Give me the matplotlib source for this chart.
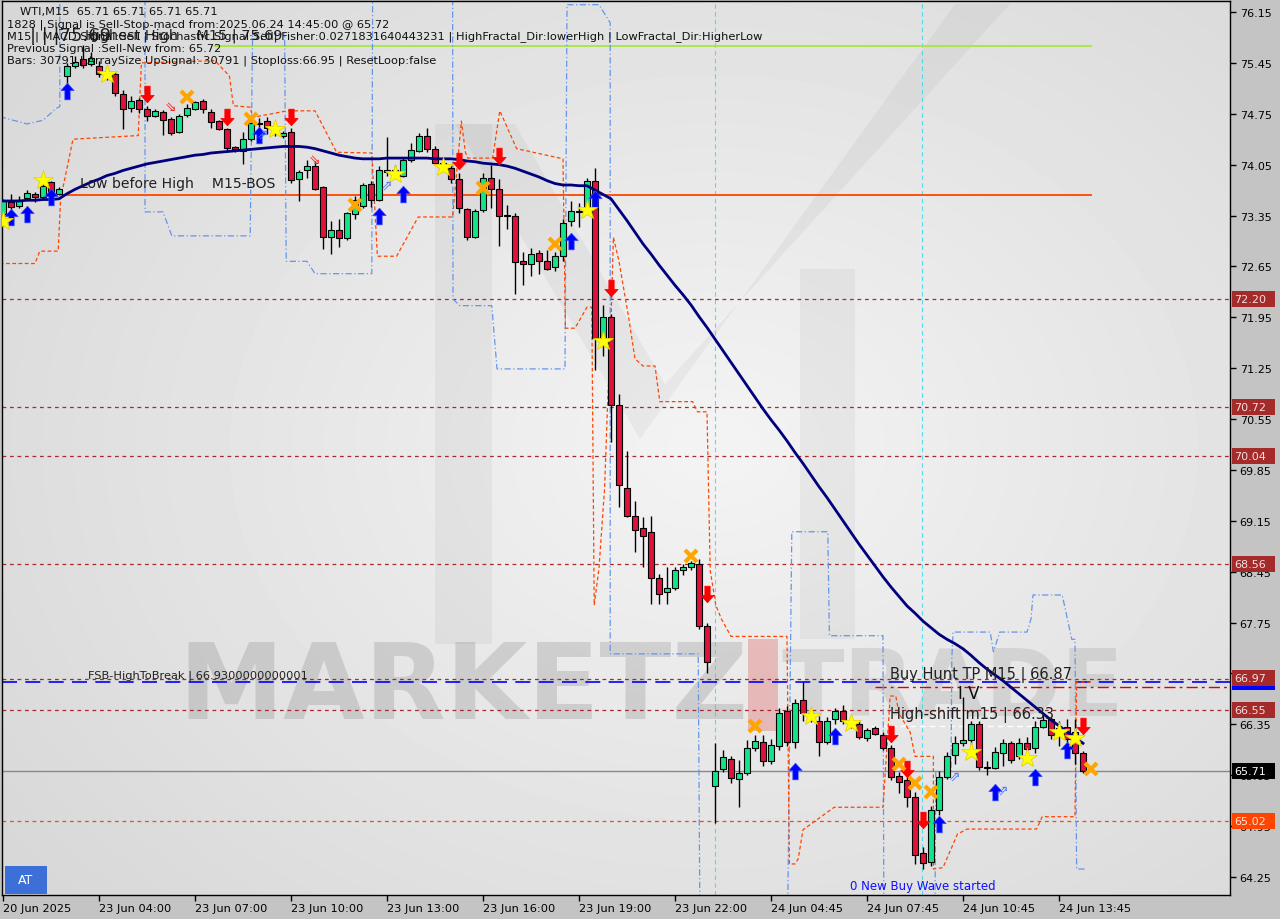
import numpy as np
import matplotlib
matplotlib.use("Agg")
import matplotlib.pyplot as plt
from matplotlib.patches import Rectangle, Polygon
from matplotlib.path import Path

# ---------------- data ----------------
opens = [73.37,73.53,73.48,73.59,73.64,73.60,73.81,73.65,75.27,75.41,75.50,75.44,75.41,75.30,75.30,75.02,74.83,74.94,74.82,74.72,
         74.77,74.68,74.50,74.73,74.82,74.92,74.78,74.65,74.54,74.29,74.24,74.40,74.61,74.65,74.52,74.44,74.50,73.85,73.97,74.03,
         73.74,73.06,73.15,73.04,73.37,73.48,73.78,73.57,73.97,73.95,73.90,74.11,74.24,74.45,74.27,74.07,74.00,73.85,73.44,73.06,
         73.42,73.87,73.71,73.35,73.34,72.72,72.68,72.83,72.73,72.64,72.79,73.27,73.40,73.47,73.83,71.66,71.96,70.75,69.60,69.21,
         69.05,68.99,68.36,68.17,68.22,68.48,68.51,68.56,67.71,65.50,65.73,65.88,65.60,65.68,66.03,66.11,65.85,66.05,66.54,66.11,
         66.69,66.50,66.40,66.11,66.42,66.54,66.40,66.36,66.16,66.30,66.20,66.03,65.64,65.58,65.35,64.58,64.46,65.17,65.63,65.93,
         66.10,66.14,66.36,65.75,65.75,65.96,66.09,65.91,66.09,66.02,66.32,66.42,66.30,66.32,66.24,65.96]
highs = [73.58,73.65,73.62,73.70,73.68,73.80,73.83,73.74,75.45,75.55,75.69,75.60,75.48,75.38,75.33,75.07,75.00,74.96,74.85,74.82,
         74.80,74.71,74.75,74.88,74.93,74.95,74.81,74.67,74.56,74.31,74.50,74.64,74.69,74.70,74.56,74.51,74.56,73.98,74.12,74.10,
         73.76,73.28,73.30,73.40,73.62,73.80,73.83,74.03,74.43,74.05,74.15,74.35,74.48,74.56,74.30,74.10,74.05,73.93,73.46,73.44,
         73.93,74.05,73.85,73.50,73.38,72.85,72.90,72.88,72.87,72.85,73.30,73.55,73.52,73.87,74.01,72.12,71.99,70.90,70.11,69.42,
         69.20,69.22,68.42,68.52,68.52,68.55,68.60,68.62,67.74,66.10,66.00,65.92,65.86,66.14,66.20,66.21,66.15,66.58,66.60,66.70,
         66.93,66.55,66.47,66.45,66.58,66.62,66.45,66.40,66.30,66.33,66.25,66.06,65.69,65.62,65.42,64.66,65.23,65.71,65.97,66.19,
         66.72,66.40,66.40,65.84,66.04,66.15,66.12,66.16,66.18,66.40,66.50,66.45,66.40,66.42,66.42,65.99]
lows = [73.32,73.44,73.46,73.57,73.54,73.58,73.60,73.63,75.15,75.38,75.38,75.40,75.25,75.22,75.00,74.54,74.78,74.76,74.65,74.70,
        74.46,74.46,74.48,74.70,74.80,74.76,74.56,74.52,74.22,74.22,74.06,74.38,74.52,74.47,74.44,74.42,73.80,73.55,73.86,73.70,
        72.89,72.82,72.92,73.02,73.30,73.45,73.47,73.55,73.90,73.88,73.88,74.09,74.22,74.22,74.05,73.98,73.80,73.38,73.01,73.04,
        73.40,73.46,72.93,73.17,72.27,72.39,72.52,72.55,72.60,72.58,72.72,73.20,73.19,73.45,71.23,71.42,70.24,69.34,69.20,68.72,
        68.52,68.00,68.00,68.00,68.20,68.40,68.48,67.66,67.06,64.99,65.70,65.55,65.21,65.65,65.98,65.78,65.80,66.00,66.05,66.03,
        66.40,66.38,65.92,66.08,66.35,66.35,66.30,66.15,66.12,66.20,66.00,65.58,65.40,65.22,64.43,64.36,64.40,65.10,65.60,65.80,
        66.05,66.05,65.72,65.65,65.73,65.78,65.82,65.88,65.98,65.95,66.30,66.15,66.05,66.10,65.80,65.68]
closes = [73.55,73.47,73.57,73.66,73.61,73.76,73.62,73.71,75.40,75.46,75.42,75.52,75.30,75.32,75.04,74.82,74.93,74.82,74.72,74.79,
          74.67,74.49,74.72,74.83,74.91,74.82,74.64,74.54,74.28,74.26,74.40,74.62,74.61,74.56,74.50,74.49,73.84,73.95,74.03,73.71,
          73.06,73.15,73.04,73.38,73.57,73.77,73.57,73.98,73.95,73.98,74.11,74.25,74.45,74.27,74.07,74.03,73.85,73.45,73.06,73.41,
          73.86,73.71,73.34,73.35,72.71,72.68,72.82,72.72,72.62,72.79,73.25,73.41,73.41,73.83,71.66,71.96,70.74,69.64,69.22,69.03,
          68.94,68.36,68.15,68.22,68.48,68.51,68.57,67.70,67.21,65.71,65.90,65.61,65.68,66.03,66.12,65.85,66.06,66.51,66.11,66.65,
          66.51,66.45,66.11,66.40,66.54,66.40,66.38,66.17,66.27,66.22,66.03,65.63,65.56,65.35,64.55,64.45,65.17,65.62,65.92,66.09,
          66.13,66.35,65.76,65.75,65.97,66.09,65.86,66.10,66.01,66.31,66.41,66.20,66.25,66.15,65.96,65.71]
ma_line = [73.55,73.55,73.55,73.56,73.56,73.57,73.57,73.58,73.65,73.71,73.76,73.81,73.85,73.90,73.93,73.97,74.00,74.03,74.06,74.08,
           74.10,74.12,74.14,74.16,74.18,74.19,74.21,74.22,74.23,74.24,74.25,74.26,74.27,74.28,74.29,74.30,74.30,74.30,74.29,74.27,
           74.24,74.21,74.18,74.16,74.14,74.13,74.13,74.13,74.14,74.14,74.14,74.14,74.14,74.14,74.13,74.13,74.13,74.12,74.10,74.09,
           74.07,74.06,74.05,74.03,74.00,73.96,73.92,73.88,73.83,73.79,73.77,73.77,73.76,73.76,73.70,73.64,73.58,73.43,73.28,73.12,
           72.96,72.82,72.67,72.53,72.39,72.26,72.12,71.96,71.81,71.65,71.49,71.33,71.17,71.01,70.85,70.69,70.54,70.40,70.25,70.09,
           69.94,69.78,69.62,69.47,69.31,69.15,68.99,68.83,68.68,68.53,68.38,68.24,68.11,67.98,67.88,67.77,67.68,67.59,67.52,67.46,
           67.39,67.30,67.20,67.11,67.03,66.95,66.86,66.77,66.68,66.59,66.50,66.41,66.33,66.25,66.17,66.09]

tick_bars = [0, 12, 24, 36, 48, 60, 72, 84, 96, 108, 120, 132]
tick_labels = ["20 Jun 2025", "23 Jun 04:00", "23 Jun 07:00", "23 Jun 10:00", "23 Jun 13:00", "23 Jun 16:00",
               "23 Jun 19:00", "23 Jun 22:00", "24 Jun 04:45", "24 Jun 07:45", "24 Jun 10:45", "24 Jun 13:45"]
price_ticks = [64.25, 64.95, 65.65, 66.35, 67.05, 67.75, 68.45, 69.15, 69.85, 70.55, 71.25, 71.95,
               72.65, 73.35, 74.05, 74.75, 75.45, 76.15]

level_dotted = [72.20, 70.72, 70.04, 68.56, 66.97, 66.55]
level_fsb = 66.93
level_tp = 66.87
level_shift = 66.33
level_bid = 65.71
level_stop = 65.02
level_high = 75.68
level_bos = 73.63

star_bars = [0, 5, 13, 34, 49, 55, 73, 75, 101, 106, 121, 128, 132, 134]
star_vals = [73.27, 73.84, 75.30, 74.54, 73.92, 74.02, 73.43, 71.62, 66.47, 66.37, 65.97, 65.89, 66.25, 66.16]
cross_bars = [23, 31, 44, 60, 69, 86, 94, 112, 114, 116, 136]
cross_vals = [74.98, 74.68, 73.49, 73.73, 72.96, 68.67, 66.33, 65.80, 65.54, 65.42, 65.74]
down_bars = [18, 28, 36, 57, 62, 76, 88, 111, 113, 115, 135]
down_vals = [75.02, 74.71, 74.71, 74.10, 74.17, 72.35, 68.14, 66.22, 65.74, 65.03, 66.33]
up_bars = [1, 3, 6, 8, 32, 47, 50, 71, 74, 99, 104, 117, 124, 129, 133]
up_vals = [73.33, 73.37, 73.60, 75.06, 74.46, 73.34, 73.65, 73.00, 73.58, 65.71, 66.19, 64.98, 65.42, 65.63, 66.00]
hollow_dn_bars = [21, 39]
hollow_dn_vals = [74.85, 74.13]
hollow_up_bars = [32.5, 48, 119, 125]
hollow_up_vals = [74.47, 73.77, 65.65, 65.45]

blue_band_1 = [(-0.4, 74.71), (3, 74.61), (5, 74.66), (6.6, 74.82), (7.1, 74.85), (7.1, 76.35)]
blue_band_2 = [(17.75, 76.35), (17.75, 73.40), (20, 73.40), (21.1, 73.07), (30.9, 73.07), (31.2, 75.85),
               (35.2, 75.85), (35.4, 72.72), (38, 72.72), (39, 72.55), (46.1, 72.55), (46.2, 76.35)]
blue_band_3 = [(56.2, 76.35), (56.25, 72.20), (57.1, 72.11), (61.1, 72.11), (61.75, 71.24), (70.25, 71.24),
               (70.5, 76.25), (74.5, 76.25), (75.9, 76.0), (75.9, 67.32), (86.9, 67.32), (87.1, 63.9)]
blue_band_4 = [(98.1, 63.9), (98.6, 69.00), (103.1, 69.00), (103.3, 67.57), (110.0, 67.57), (110.1, 63.9)]
blue_band_5 = [(116.5, 63.9), (116.6, 65.70), (118.5, 65.70), (118.6, 67.25), (118.75, 67.62), (123.4, 67.62),
               (123.8, 67.35), (124.6, 67.62), (128.0, 67.62), (128.5, 67.80), (128.75, 68.13), (132.4, 68.13),
               (133.6, 67.52), (134.0, 67.52), (134.2, 64.36), (135.25, 64.36)]
orange_band = [(-0.4, 72.69), (4, 72.69), (4.6, 72.86), (6.9, 72.86), (7.2, 73.58), (8.75, 74.40), (16.9, 74.45),
               (17.3, 75.45), (26.5, 75.48), (28.3, 75.27), (28.8, 74.86), (30.9, 74.84), (31.2, 74.70), (35.5, 74.79),
               (39, 74.79), (41.7, 74.22), (46.1, 74.21), (46.8, 72.79), (49.2, 72.79), (51.9, 73.33), (56.2, 73.33),
               (57.3, 74.65), (57.8, 74.22), (58.1, 74.14), (61.2, 74.14), (62.1, 74.79), (64.2, 74.27), (67.1, 74.20),
               (70.0, 74.13), (70.3, 71.80), (71.5, 71.80), (73.0, 72.09), (73.6, 72.09), (73.9, 67.99), (74.5, 68.5),
               (75.2, 69.6), (75.6, 70.84), (75.9, 71.5), (76.3, 73.05), (77.0, 72.72), (78.2, 71.95), (79.0, 71.38),
               (80.0, 71.28), (81.5, 71.28), (82.1, 70.79), (86.2, 70.79), (86.8, 70.65), (88.0, 70.65), (88.4, 68.47),
               (89.1, 67.99), (89.8, 67.80), (91.0, 67.56), (98.0, 67.56), (98.3, 64.43), (99.0, 64.43), (99.4, 64.5),
               (100.0, 64.9), (103.9, 65.21), (110.0, 65.21), (110.9, 66.74), (111.6, 66.74), (112.0, 66.5),
               (113.4, 66.24), (114.0, 65.91), (116.3, 65.91), (116.3, 64.36), (117.5, 64.38), (119.3, 64.84),
               (120.5, 64.91), (129.2, 64.91), (129.9, 65.08), (134.0, 65.08), (134.2, 66.93), (135.9, 66.93)]

info_lines = ["WTI,M15  65.71 65.71 65.71 65.71",
              "1828 | Signal is Sell-Stop-macd from:2025.06.24 14:45:00 @ 65.72",
              "M15 | MACD Signal:Sell | Stochastic Signal:Sell| Fisher:0.0271831640443231 | HighFractal_Dir:lowerHigh | LowFractal_Dir:HigherLow",
              "Previous Signal :Sell-New from: 65.72",
              "Bars: 30791 | ArraySize UpSignal: 30791 | Stoploss:66.95 | ResetLoop:false"]

# ---------------- figure ----------------
W, H = 1280, 920
fig = plt.figure(figsize=(W / 100, H / 100), dpi=100)
fig.patch.set_facecolor('#c4c4c4')
AX_L, AX_R, AX_T, AX_B = 2, 1230, 2, 896
ax = fig.add_axes([AX_L / W, (H - AX_B) / H, (AX_R - AX_L) / W, (AX_B - AX_T) / H])

def px2ax(x, y):
    return ((x - AX_L) / (AX_R - AX_L), 1 - (y - AX_T) / (AX_B - AX_T))

# background gradient
gy, gx = np.mgrid[0:1:200j, 0:1:300j]
d = np.sqrt(((gx - 0.58) / 0.85) ** 2 + ((gy - 0.5) / 0.9) ** 2)
img = np.clip(0.955 - 0.13 * d, 0.83, 0.96)
ax.imshow(img, cmap='gray', vmin=0, vmax=1, extent=[0, 1, 0, 1], transform=ax.transAxes,
          aspect='auto', zorder=0, interpolation='bilinear')

# watermark logo
logo_shapes = [
    [(435, 645), (492, 645), (492, 125), (435, 125)],
    [(455, 125), (515, 125), (665, 385), (640, 440)],
    [(640, 440), (665, 385), (1010, 5), (955, 5)],
    [(800, 640), (855, 640), (855, 270), (800, 270)],
]
for shp in logo_shapes:
    ax.add_patch(Polygon([px2ax(*p) for p in shp], closed=True, transform=ax.transAxes,
                         facecolor='#000000', alpha=0.04, edgecolor='none', zorder=0.5))
ax.text(*px2ax(178, 690), "MARKETZ", transform=ax.transAxes, fontsize=76, fontweight='bold',
        color='#808080', alpha=0.26, va='center', ha='left', zorder=0.6, family='DejaVu Sans')
ax.add_patch(Rectangle(px2ax(748, 732), 30 / 1228, 92 / 894, transform=ax.transAxes,
                       facecolor='#e06060', alpha=0.35, edgecolor='none', zorder=0.6))
ax.text(*px2ax(782, 690), "TRADE", transform=ax.transAxes, fontsize=66, fontweight='bold',
        color='#a0a0a0', alpha=0.28, va='center', ha='left', zorder=0.6, family='DejaVu Sans')

ylo, yhi = 64.003, 76.301
xlo, xhi = -0.125, 153.375

# horizontal levels
for lv in level_dotted:
    ax.axhline(lv, color='#a52a2a', lw=0.9, dashes=(3, 3), zorder=1.5)
ax.axhline(level_fsb, color='#0000ff', lw=1.2, dashes=(9, 5), zorder=1.6)
ax.plot([109, xhi], [level_tp, level_tp], color='#e00000', lw=1.0, dashes=(8, 3, 2, 3), zorder=1.6)
ax.plot([108.5, 133.5], [level_shift, level_shift], color='#ffffff', lw=1.0, dashes=(4, 3), zorder=1.6)
ax.axhline(level_bid, color='#808a94', lw=1.0, zorder=1.5)
ax.axhline(level_stop, color='#ff4500', lw=0.9, dashes=(3, 3), zorder=1.5)
ax.plot([26.5, 136], [level_high, level_high], color='#a8e63a', lw=1.3, zorder=1.6)
ax.plot([7.5, 136], [level_bos, level_bos], color='#ff4500', lw=1.3, zorder=1.6)
for vb in (89, 114.9):
    ax.axvline(vb, color='#30d8f0', lw=0.8, dashes=(4, 3), alpha=0.8, zorder=1.5)

# bands
for band in (blue_band_1, blue_band_2, blue_band_3, blue_band_4, blue_band_5):
    bx, by = zip(*band)
    ax.plot(bx, by, color='#6495ed', lw=0.9, dashes=(5, 2, 1, 2), zorder=2)
ox, oy = zip(*orange_band)
ax.plot(ox, oy, color='#ff4500', lw=0.9, dashes=(3, 2), zorder=2)

# candles
idx = np.arange(len(opens))
o = np.array(opens); c = np.array(closes); hi = np.array(highs); lo = np.array(lows)
ax.vlines(idx, lo, hi, color='black', lw=1.0, zorder=3)
bottoms = np.minimum(o, c)
heights = np.maximum(np.abs(c - o), 0.012)
cols = np.where(c > o, '#14e38a', np.where(c < o, '#dc143c', '#000000'))
ax.bar(idx, heights, bottom=bottoms, width=0.75, color=cols, edgecolor='black', linewidth=0.8, zorder=3.2)

# moving average
ax.plot(idx, ma_line, color='#00007f', lw=2.0, zorder=4)

# markers
up_arrow = Path([(0, 1), (0.8, 0.1), (0.32, 0.1), (0.32, -1), (-0.32, -1), (-0.32, 0.1), (-0.8, 0.1), (0, 1)])
down_arrow = Path([(0, -1), (0.8, -0.1), (0.32, -0.1), (0.32, 1), (-0.32, 1), (-0.32, -0.1), (-0.8, -0.1), (0, -1)])
ax.plot(up_bars, up_vals, ls='none', marker=up_arrow, ms=12, color='#0000ff', mec='#3050ff', mew=0.5, zorder=5)
ax.plot(down_bars, down_vals, ls='none', marker=down_arrow, ms=12, color='#ff0000', mec='#ff0000', mew=0.5, zorder=5)
ax.plot(star_bars, star_vals, ls='none', marker='*', ms=15, color='#ffff00', mec='#e6d200', mew=0.6, zorder=5)
ax.plot(cross_bars, cross_vals, ls='none', marker='x', ms=8, color='#ffa500', mew=3, zorder=5)
for b, v in zip(hollow_dn_bars, hollow_dn_vals):
    ax.text(b, v, "\u21d8", color='#ff2020', fontsize=10, ha='center', va='center', zorder=5)
for b, v in zip(hollow_up_bars, hollow_up_vals):
    ax.text(b, v, "\u21d7", color='#4a7aff', fontsize=10, ha='center', va='center', zorder=5)

# chart texts
ax.text(*px2ax(80, 184), "Low before High    M15-BOS", transform=ax.transAxes, fontsize=10.1,
        color='#202020', va='center', ha='left', zorder=6)
ax.text(*px2ax(88, 676), "FSB-HighToBreak | 66.9300000000001", transform=ax.transAxes, fontsize=8.2,
        color='#202020', va='center', ha='left', zorder=6)
ax.text(*px2ax(890, 675), "Buy Hunt TP M15 | 66.87", transform=ax.transAxes, fontsize=10.5,
        color='#202020', va='center', ha='left', zorder=6)
ax.text(*px2ax(958, 694), "I V", transform=ax.transAxes, fontsize=12,
        color='#101010', va='center', ha='left', zorder=6)
ax.text(*px2ax(890, 715), "High-shift m15 | 66.33", transform=ax.transAxes, fontsize=10.5,
        color='#202020', va='center', ha='left', zorder=6)
ax.text(*px2ax(850, 887), "0 New Buy Wave started", transform=ax.transAxes, fontsize=8.5,
        color='#1010ff', va='center', ha='left', zorder=6)
ax.text(*px2ax(30, 36), "| | |75.69", transform=ax.transAxes, fontsize=13,
        color='#202020', va='center', ha='left', zorder=6)
ax.text(*px2ax(85, 36), "Highest High    M15 | 75.69", transform=ax.transAxes, fontsize=10.4,
        color='#202020', va='center', ha='left', zorder=6)
for k, line in enumerate(info_lines):
    ax.text(*px2ax(7 if k else 20, 12 + 12.3 * k), line, transform=ax.transAxes, fontsize=8.2,
            color='#101010', va='center', ha='left', zorder=7)

# AT box
ax.add_patch(Rectangle(px2ax(5, 895), 42 / 1228, 28 / 894, transform=ax.transAxes,
                       facecolor='#3c6fd8', edgecolor='none', zorder=7))
ax.text(*px2ax(26, 881), "AT", transform=ax.transAxes, fontsize=9, color='white',
        ha='center', va='center', zorder=8)

# axes formatting
ax.set_xlim(xlo, xhi)
ax.set_ylim(ylo, yhi)
ax.yaxis.tick_right()
ax.set_yticks(price_ticks)
ax.set_yticklabels([f"{p:.2f}" for p in price_ticks])
ax.set_xticks(tick_bars)
ax.set_xticklabels(tick_labels)
for lab in ax.get_xticklabels():
    lab.set_ha('left')
ax.tick_params(axis='y', direction='out', length=4, width=1, labelsize=8, pad=3, colors='black')
ax.tick_params(axis='x', direction='out', length=4, width=1, labelsize=8.2, pad=2, colors='black')
for s in ax.spines.values():
    s.set_color('black'); s.set_linewidth(1.0)

# right price labels
ytr = ax.get_yaxis_transform()
box_h = 16 / 72.69
def price_box(val, fc, tc, shift=0.0):
    ax.add_patch(Rectangle((1.0016, val - box_h / 2 + shift), 43 / 1228, box_h, transform=ytr,
                           facecolor=fc, edgecolor='none', clip_on=False, zorder=9))
    ax.text(1.0035, val + shift, f"{val:.2f}", transform=ytr, fontsize=8, color=tc,
            ha='left', va='center', clip_on=False, zorder=10)
for lv in (72.20, 70.72, 70.04, 68.56, 66.55):
    price_box(lv, '#a52a2a', '#f5dede')
ax.add_patch(Rectangle((1.0016, level_fsb - box_h / 2), 43 / 1228, box_h, transform=ytr,
                       facecolor='#0000ff', edgecolor='none', clip_on=False, zorder=9))
price_box(66.97, '#a52a2a', '#f5dede', shift=0.02)
price_box(level_bid, '#000000', '#ffffff')
price_box(level_stop, '#ff4500', '#ffe6d9')

fig.savefig("out.png", dpi=100, facecolor=fig.get_facecolor())
